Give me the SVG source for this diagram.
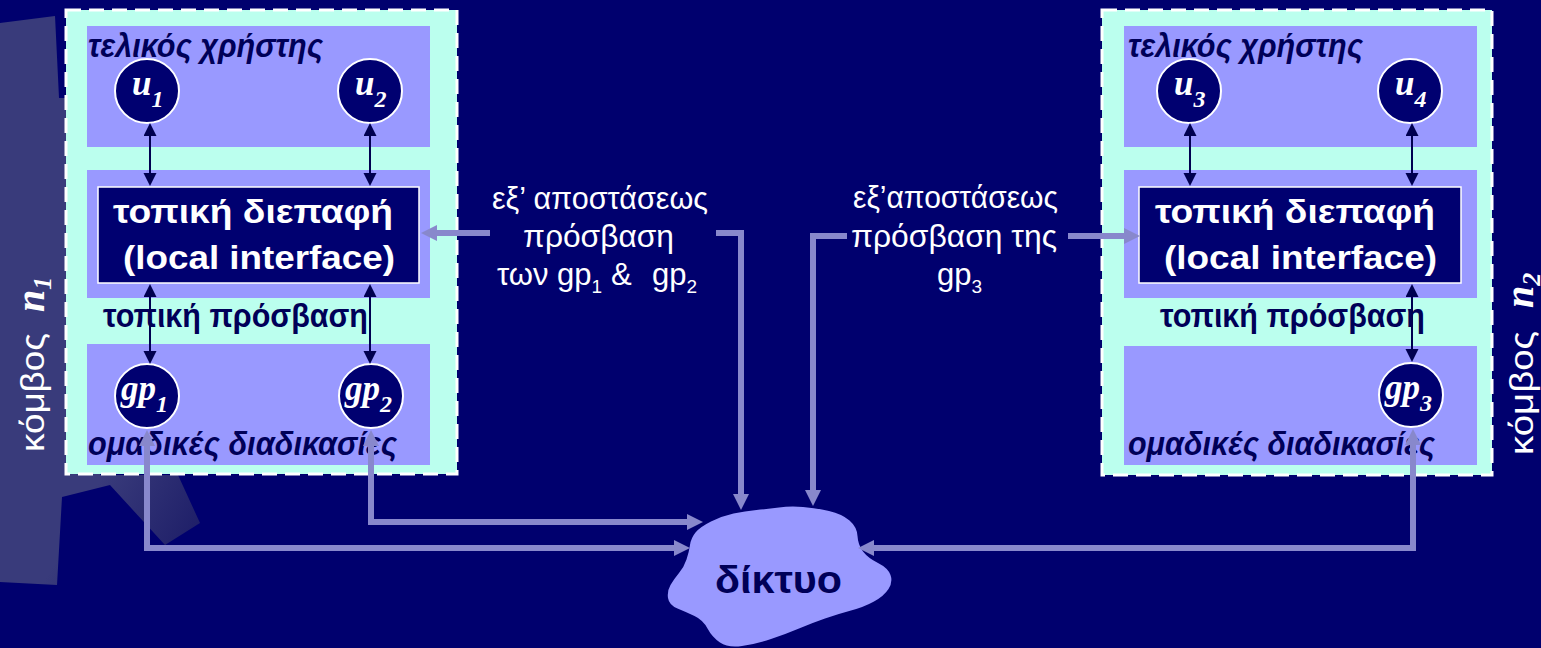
<svg xmlns="http://www.w3.org/2000/svg" width="1541" height="648" viewBox="0 0 1541 648">
<defs>
<style>
.outer{fill:#BBFFEE;stroke:#FFFFFF;stroke-width:3;stroke-dasharray:15 8}
.lav{fill:#9999FF}
.iface{fill:#000070;stroke:#FFFFFF;stroke-width:1.5}
.circ{fill:#000070;stroke:#FFFFFF;stroke-width:2}
.it{font-family:"Liberation Sans",Arial,sans-serif;font-weight:bold;font-style:italic;font-size:33px;fill:#000058}
.bd{font-family:"Liberation Sans",Arial,sans-serif;font-weight:bold;font-size:33px;fill:#000058}
.wt{font-family:"Liberation Sans",Arial,sans-serif;font-weight:bold;font-size:33px;fill:#FFFFFF}
.nt{font-family:"Liberation Serif","Times New Roman",serif;font-weight:bold;font-style:italic;font-size:35px;fill:#FFFFFF}
.sub{font-size:24px}
.mid{font-family:"Liberation Sans",Arial,sans-serif;font-size:31px;fill:#FFFFFF}
.msub{font-size:19px}
.kt{font-family:"Liberation Sans",Arial,sans-serif;font-size:34px;fill:#FFFFFF}
.kn{font-family:"Liberation Serif","Times New Roman",serif;font-weight:bold;font-style:italic;font-size:40px;fill:#FFFFFF}
.dk{fill:none;stroke:#000050;stroke-width:2}
.lt{fill:none;stroke:#8888CC;stroke-width:6}
</style>
<linearGradient id="deco" gradientUnits="userSpaceOnUse" x1="100" y1="480" x2="200" y2="535">
<stop offset="0" stop-color="#393B7B"/>
<stop offset="1" stop-color="#1E1E68"/>
</linearGradient>
<marker id="ad" markerUnits="userSpaceOnUse" markerWidth="14" markerHeight="14" refX="5" refY="6.5" orient="auto-start-reverse">
<path d="M0,0 L13,6.5 L0,13 z" fill="#000050"/>
</marker>
<marker id="al" markerUnits="userSpaceOnUse" markerWidth="18" markerHeight="18" refX="6" refY="8" orient="auto-start-reverse">
<path d="M0,0 L16,8 L0,16 z" fill="#8888CC"/>
</marker>
</defs>

<rect x="0" y="0" width="1541" height="648" fill="#00006E"/>
<path d="M0,23 L55,16 L59,98 L100,98 L100,475 L178,475 L200,523 L165,545 L110,485 L62,497 L57,585 L0,582 Z" fill="url(#deco)"/>

<g id="node-n1">
<rect class="outer" x="66" y="10" width="391" height="464"/>
<rect class="lav" x="87" y="26" width="343" height="121"/>
<rect class="lav" x="87" y="170" width="343" height="128"/>
<rect class="lav" x="87" y="344" width="343" height="121"/>
<text class="it" x="88" y="57" textLength="235" lengthAdjust="spacingAndGlyphs">τελικός χρήστης</text>
<text class="bd" x="103" y="327" textLength="265" lengthAdjust="spacingAndGlyphs">τοπική πρόσβαση</text>
<text class="it" x="88" y="455" textLength="309" lengthAdjust="spacingAndGlyphs">ομαδικές διαδικασίες</text>
</g>

<g id="node-n2">
<rect class="outer" x="1102" y="10" width="390" height="465"/>
<rect class="lav" x="1124" y="26" width="353" height="121"/>
<rect class="lav" x="1124" y="170" width="353" height="128"/>
<rect class="lav" x="1124" y="346" width="353" height="119"/>
<text class="it" x="1128" y="57" textLength="235" lengthAdjust="spacingAndGlyphs">τελικός χρήστης</text>
<text class="bd" x="1160" y="327" textLength="265" lengthAdjust="spacingAndGlyphs">τοπική πρόσβαση</text>
<text class="it" x="1128" y="455" textLength="307" lengthAdjust="spacingAndGlyphs">ομαδικές διαδικασίες</text>
</g>

<g id="li1">
<rect class="iface" x="98" y="187" width="321" height="96"/>
<text class="wt" x="113" y="223" textLength="280" lengthAdjust="spacingAndGlyphs">τοπική διεπαφή</text>
<text class="wt" x="123" y="269" textLength="272" lengthAdjust="spacingAndGlyphs">(local interface)</text>
</g>
<g id="li2">
<rect class="iface" x="1139" y="187" width="322" height="96"/>
<text class="wt" x="1155" y="223" textLength="280" lengthAdjust="spacingAndGlyphs">τοπική διεπαφή</text>
<text class="wt" x="1164" y="269" textLength="273" lengthAdjust="spacingAndGlyphs">(local interface)</text>
</g>

<g id="u1"><circle class="circ" cx="147" cy="91" r="32"/><text class="nt" x="132" y="95">u<tspan class="sub" dy="12">1</tspan></text></g>
<g id="u2"><circle class="circ" cx="370" cy="91" r="32"/><text class="nt" x="355" y="95">u<tspan class="sub" dy="12">2</tspan></text></g>
<g id="u3"><circle class="circ" cx="1189" cy="91" r="32"/><text class="nt" x="1174" y="95">u<tspan class="sub" dy="12">3</tspan></text></g>
<g id="u4"><circle class="circ" cx="1410" cy="91" r="32"/><text class="nt" x="1395" y="95">u<tspan class="sub" dy="12">4</tspan></text></g>
<g id="gp1"><circle class="circ" cx="147" cy="396" r="32"/><text class="nt" x="121" y="400">gp<tspan class="sub" dy="12">1</tspan></text></g>
<g id="gp2"><circle class="circ" cx="371" cy="396" r="32"/><text class="nt" x="345" y="400">gp<tspan class="sub" dy="12">2</tspan></text></g>
<g id="gp3"><circle class="circ" cx="1411" cy="395" r="32"/><text class="nt" x="1385" y="399">gp<tspan class="sub" dy="12">3</tspan></text></g>

<g id="net">
<path d="M695.5,532.5 Q700,527 711,521.5 Q722,516 733.5,513.5 Q745,511 756.5,510 Q768,509 779,507.5 Q790,506 803,507 Q816,508 829,511 Q842,514 849.5,520.5 Q857,527 857.5,536 Q858,545 863,551.5 Q868,558 878,563 Q888,568 890.5,575 Q893,582 888.5,589 Q884,596 874,601.5 Q864,607 851,610.5 Q838,614 825,618.5 Q812,623 799,628.5 Q786,634 771,639 Q756,644 742,646 Q728,648 720,642.5 Q712,637 707.5,628.5 Q703,620 694.5,616 Q686,612 677.5,608.5 Q669,605 668,598 Q667,591 670.5,585 Q674,579 679,573 Q684,567 686.5,559.5 Q689,552 690,545 Q691,538 695.5,532.5 Z" fill="#9999FF"/>
<text class="bd" x="715" y="593" textLength="127" lengthAdjust="spacingAndGlyphs" style="font-size:38px">δίκτυο</text>
</g>

<g id="label-remote-n1">
<text class="mid" x="492" y="209" textLength="216" lengthAdjust="spacingAndGlyphs">εξ’ αποστάσεως</text>
<text class="mid" x="523" y="247" textLength="151" lengthAdjust="spacingAndGlyphs">πρόσβαση</text>
<text class="mid" y="285"><tspan x="497">των gp</tspan><tspan class="msub" dy="8">1</tspan><tspan x="611" dy="-8">&amp;</tspan><tspan x="652">gp</tspan><tspan class="msub" dy="8">2</tspan></text>
</g>
<g id="label-remote-n2">
<text class="mid" x="853" y="208" textLength="205" lengthAdjust="spacingAndGlyphs">εξ’αποστάσεως</text>
<text class="mid" x="851" y="247" textLength="206" lengthAdjust="spacingAndGlyphs">πρόσβαση της</text>
<text class="mid" x="937" y="285">gp<tspan class="msub" dy="8">3</tspan></text>
</g>

<g id="label-kombos-n1">
<text class="kt" transform="translate(44,452) rotate(-90)" x="0" y="0" textLength="119" lengthAdjust="spacingAndGlyphs">κόμβος</text>
<text class="kn" transform="translate(44,312) rotate(-90)" x="0" y="0">n<tspan class="sub" style="font-size:26px" dy="7">1</tspan></text>
</g>
<g id="label-kombos-n2">
<text class="kt" transform="translate(1533,455) rotate(-90)" x="0" y="0" textLength="124" lengthAdjust="spacingAndGlyphs">κόμβος</text>
<text class="kn" transform="translate(1533,308) rotate(-90)" x="0" y="0">n<tspan class="sub" style="font-size:26px" dy="7">2</tspan></text>
</g>

<g id="connectors">
<path class="dk" d="M150,131 V178" marker-start="url(#ad)" marker-end="url(#ad)"/>
<path class="dk" d="M370,131 V178" marker-start="url(#ad)" marker-end="url(#ad)"/>
<path class="dk" d="M150,292 V356" marker-start="url(#ad)" marker-end="url(#ad)"/>
<path class="dk" d="M370,292 V356" marker-start="url(#ad)" marker-end="url(#ad)"/>
<path class="dk" d="M1190,131 V178" marker-start="url(#ad)" marker-end="url(#ad)"/>
<path class="dk" d="M1412,131 V178" marker-start="url(#ad)" marker-end="url(#ad)"/>
<path class="dk" d="M1412,292 V354" marker-start="url(#ad)" marker-end="url(#ad)"/>
<path class="lt" d="M490,233 H431" marker-end="url(#al)"/>
<path class="lt" d="M716,233 H741 V500" marker-end="url(#al)"/>
<path class="lt" d="M847,236 H813 V496" marker-end="url(#al)"/>
<path class="lt" d="M1068,236 H1130" marker-end="url(#al)"/>
<path class="lt" d="M371,440 V522 H693" marker-start="url(#al)" marker-end="url(#al)"/>
<path class="lt" d="M147,440 V548 H680" marker-start="url(#al)" marker-end="url(#al)"/>
<path class="lt" d="M1413,439 V548 H868" marker-start="url(#al)" marker-end="url(#al)"/>
</g>
</svg>
